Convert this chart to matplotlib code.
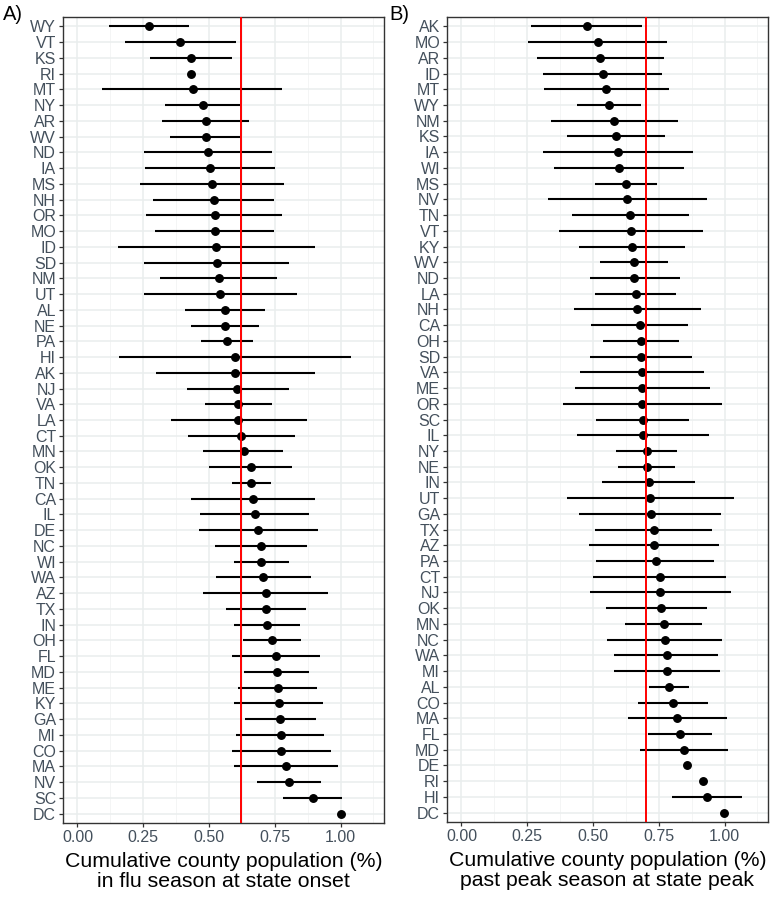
import numpy as np
import matplotlib.pyplot as plt

# Panel A: population in flu season at state onset
states_a = ["WY", "VT", "KS", "RI", "MT", "NY", "AR", "WV", "ND", "IA", "MS", "NH", "OR",
            "MO", "ID", "SD", "NM", "UT", "AL", "NE", "PA", "HI", "AK", "NJ", "VA", "LA",
            "CT", "MN", "OK", "TN", "CA", "IL", "DE", "NC", "WI", "WA", "AZ", "TX", "IN",
            "OH", "FL", "MD", "ME", "KY", "GA", "MI", "CO", "MA", "NV", "SC", "DC"]
est_a = [0.271, 0.391, 0.432, 0.433, 0.438, 0.478, 0.487, 0.490, 0.496, 0.504, 0.513, 0.518, 0.523,
         0.522, 0.528, 0.530, 0.537, 0.543, 0.561, 0.562, 0.568, 0.599, 0.600, 0.608, 0.610, 0.611,
         0.623, 0.632, 0.659, 0.661, 0.667, 0.673, 0.687, 0.696, 0.697, 0.706, 0.715, 0.715, 0.720,
         0.738, 0.753, 0.757, 0.761, 0.767, 0.770, 0.772, 0.775, 0.792, 0.803, 0.894, 1.000]
lo_a = [0.119, 0.182, 0.277, np.nan, 0.095, 0.333, 0.323, 0.353, 0.253, 0.257, 0.239, 0.286, 0.261,
        0.296, 0.153, 0.253, 0.315, 0.253, 0.408, 0.432, 0.471, 0.157, 0.299, 0.416, 0.486, 0.357,
        0.420, 0.477, 0.500, 0.586, 0.432, 0.466, 0.461, 0.523, 0.594, 0.525, 0.478, 0.566, 0.594,
        0.629, 0.586, 0.632, 0.611, 0.594, 0.637, 0.603, 0.586, 0.596, 0.682, 0.781, np.nan]
hi_a = [0.422, 0.601, 0.589, np.nan, 0.778, 0.619, 0.651, 0.618, 0.739, 0.751, 0.785, 0.748, 0.778,
        0.746, 0.904, 0.805, 0.757, 0.834, 0.714, 0.691, 0.666, 1.039, 0.901, 0.803, 0.739, 0.871,
        0.825, 0.781, 0.816, 0.735, 0.901, 0.880, 0.915, 0.871, 0.803, 0.889, 0.952, 0.867, 0.846,
        0.849, 0.920, 0.881, 0.911, 0.935, 0.905, 0.937, 0.963, 0.990, 0.924, 1.005, np.nan]
ref_a = 0.621

# Panel B: population past peak season at state peak
states_b = ["AK", "MO", "AR", "ID", "MT", "WY", "NM", "KS", "IA", "WI", "MS", "NV", "TN",
            "VT", "KY", "WV", "ND", "LA", "NH", "CA", "OH", "SD", "VA", "ME", "OR", "SC",
            "IL", "NY", "NE", "IN", "UT", "GA", "TX", "AZ", "PA", "CT", "NJ", "OK", "MN",
            "NC", "WA", "MI", "AL", "CO", "MA", "FL", "MD", "DE", "RI", "HI", "DC"]
est_b = [0.477, 0.520, 0.528, 0.537, 0.549, 0.562, 0.581, 0.589, 0.596, 0.599, 0.627, 0.631, 0.642,
         0.646, 0.647, 0.656, 0.657, 0.662, 0.669, 0.678, 0.681, 0.683, 0.688, 0.688, 0.688, 0.689,
         0.690, 0.704, 0.704, 0.713, 0.718, 0.719, 0.730, 0.732, 0.738, 0.753, 0.756, 0.759, 0.768,
         0.773, 0.780, 0.781, 0.787, 0.805, 0.821, 0.829, 0.846, 0.856, 0.917, 0.933, 0.999]
lo_b = [0.264, 0.254, 0.288, 0.310, 0.315, 0.438, 0.341, 0.401, 0.311, 0.353, 0.509, 0.329, 0.419,
        0.370, 0.448, 0.526, 0.490, 0.509, 0.426, 0.494, 0.537, 0.490, 0.452, 0.431, 0.385, 0.510,
        0.440, 0.587, 0.596, 0.533, 0.401, 0.446, 0.506, 0.484, 0.513, 0.501, 0.487, 0.549, 0.622,
        0.554, 0.579, 0.579, 0.714, 0.671, 0.634, 0.708, 0.680, np.nan, np.nan, 0.800, np.nan]
hi_b = [0.686, 0.783, 0.768, 0.762, 0.787, 0.683, 0.822, 0.775, 0.879, 0.846, 0.743, 0.932, 0.865,
        0.919, 0.848, 0.786, 0.829, 0.816, 0.912, 0.861, 0.826, 0.878, 0.923, 0.946, 0.991, 0.866,
        0.940, 0.820, 0.811, 0.887, 1.034, 0.987, 0.951, 0.980, 0.961, 1.004, 1.024, 0.932, 0.913,
        0.989, 0.976, 0.981, 0.863, 0.938, 1.010, 0.952, 1.014, np.nan, np.nan, 1.068, np.nan]
ref_b = 0.703

xticks = [0.0, 0.25, 0.5, 0.75, 1.0]
xticklabels = ["0.00", "0.25", "0.50", "0.75", "1.00"]

plt.rcParams['font.family'] = ['Liberation Sans', 'DejaVu Sans']

fig = plt.figure(figsize=(7.72, 9), dpi=100)
ax_a = fig.add_axes([63 / 772, 77 / 900, 321 / 772, 806 / 900])
ax_b = fig.add_axes([447 / 772, 78 / 900, 321 / 772, 805 / 900])


def draw_panel(ax, states, est, lo, hi, ref, xlabel):
    n = len(states)
    y = np.arange(n)
    ax.set_xlim(-0.055, 1.165)
    ax.set_ylim(n - 1 + 0.6, -0.6)
    # grid like theme_bw
    for v in np.arange(0.125, 1.2, 0.25):
        ax.axvline(v, color='#F2F4F4', lw=0.6, zorder=0)
    for v in xticks:
        ax.axvline(v, color='#EAEEEE', lw=1.1, zorder=0)
    for yy in y:
        ax.axhline(yy, color='#EAEEEE', lw=1.1, zorder=0)
    ax.hlines(y, lo, hi, color='black', lw=1.5, zorder=2)
    ax.plot(est, y, 'o', color='black', ms=5.4, zorder=3)
    ax.axvline(ref, color='#FF0000', lw=1.4, zorder=4)
    ax.set_yticks(y)
    ax.set_yticklabels(states, fontsize=11.5, color='#44505C')
    ax.set_xticks(xticks)
    ax.set_xticklabels(xticklabels, fontsize=11.5, color='#44505C')
    ax.tick_params(axis='both', length=3, width=0.9, color='#333333', pad=2)
    ax.set_xlabel(xlabel, fontsize=15.3, color='black', labelpad=5, linespacing=1.08)
    for s in ax.spines.values():
        s.set_color('#333333')
        s.set_linewidth(1.0)


draw_panel(ax_a, states_a, est_a, lo_a, hi_a, ref_a,
           "Cumulative county population (%)\nin flu season at state onset")
draw_panel(ax_b, states_b, est_b, lo_b, hi_b, ref_b,
           "Cumulative county population (%)\npast peak season at state peak")

fig.text(3 / 772, 1 - 5 / 900, "A)", fontsize=14.5, ha='left', va='top')
fig.text(389 / 772, 1 - 5 / 900, "B)", fontsize=14.5, ha='left', va='top')

fig.savefig("out.png", dpi=100)
